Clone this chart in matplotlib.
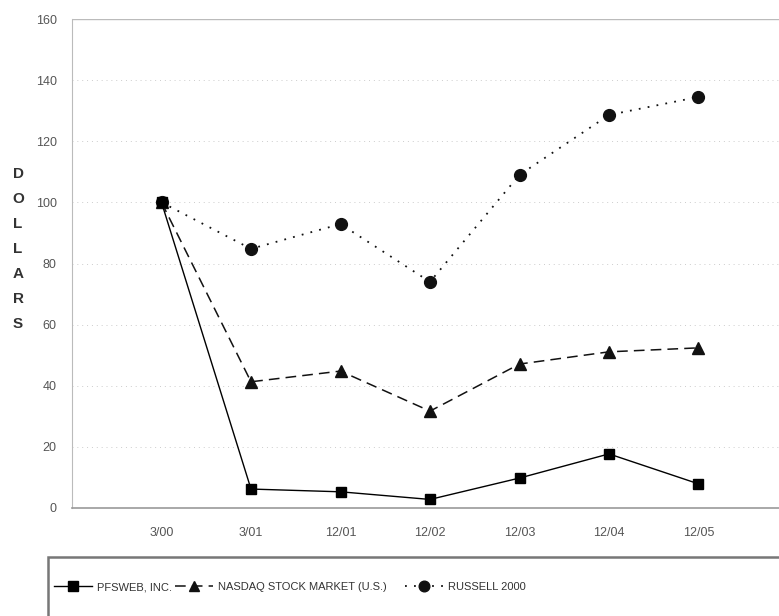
import matplotlib.pyplot as plt
from matplotlib.patches import Rectangle
from matplotlib.lines import Line2D

plt.rcParams['font.family'] = ['Liberation Sans', 'DejaVu Sans']

# data
periods = ['3/00', '3/01', '12/01', '12/02', '12/03', '12/04', '12/05']
pfsweb = [100, 6.2, 5.3, 2.8, 9.8, 17.7, 7.9]
nasdaq = [100, 41.3, 44.8, 31.7, 47.1, 51.1, 52.4]
russell = [100, 84.8, 92.9, 74.0, 109.0, 128.6, 134.5]
yticks = [0, 20, 40, 60, 80, 100, 120, 140, 160]
names = ['PFSWEB, INC.', 'NASDAQ STOCK MARKET (U.S.)', 'RUSSELL 2000']

fig = plt.figure(figsize=(7.79, 6.16), dpi=100)
ax = fig.add_axes([72 / 779, 1 - 508 / 616, 716 / 779, 489 / 616])

styles = [
    dict(color='black', lw=1.0, ls='-', marker='s', ms=7.5),
    dict(color='#111111', lw=1.1, ls=(0, (7, 4)), marker='^', ms=8),
    dict(color='#111111', lw=1.3, ls=(0, (1, 4)), marker='o', ms=8.5),
]

x = range(len(periods))
ax.plot(x, russell, zorder=3, **styles[2])
ax.plot(x, nasdaq, zorder=4, **styles[1])
ax.plot(x, pfsweb, zorder=5, **styles[0])

ax.set_xlim(-1, 7)
ax.set_ylim(0, 160)
ax.set_xticks(list(x))
ax.set_xticklabels(periods)
ax.set_yticks(yticks)
ax.tick_params(axis='both', length=0, labelsize=9, colors='#555555')
ax.tick_params(axis='x', pad=14)
ax.tick_params(axis='y', pad=11)

for v in yticks[1:-1]:
    ax.axhline(v, color='#cccccc', lw=0.7, ls=(0, (1, 4)), zorder=0)
ax.axhline(160, color='#bbbbbb', lw=1.0, zorder=0)

for side in ['top', 'right']:
    ax.spines[side].set_visible(False)
ax.spines['left'].set_color('#bbbbbb')
ax.spines['bottom'].set_color('#999999')
ax.spines['bottom'].set_linewidth(1.2)

# stacked vertical axis label
fig.text(18 / 779, 1 - 249 / 616, 'D\nO\nL\nL\nA\nR\nS', ha='center', va='center',
         fontsize=11, fontweight='bold', color='#333333', linespacing=2.0)

# legend box running off the bottom/right edge
fig.patches.append(Rectangle((48 / 779, -0.05), 0.95, 1 - 557 / 616 + 0.05,
                             transform=fig.transFigure, fill=False,
                             edgecolor='#777777', lw=1.8))

# one legend per entry so the uneven spacing matches the original
starts = [54, 175, 405]
for name, st, x0 in zip(names, styles, starts):
    h = Line2D([], [], **st)
    leg = fig.legend([h], [name], loc='center left',
                     bbox_to_anchor=(x0 / 779, 1 - 587 / 616), frameon=False,
                     fontsize=8, handlelength=3.4, handletextpad=0.5,
                     borderaxespad=0, borderpad=0, markerscale=0.9)
    for t in leg.get_texts():
        t.set_color('#333333')

fig.savefig('out.png', dpi=100)
